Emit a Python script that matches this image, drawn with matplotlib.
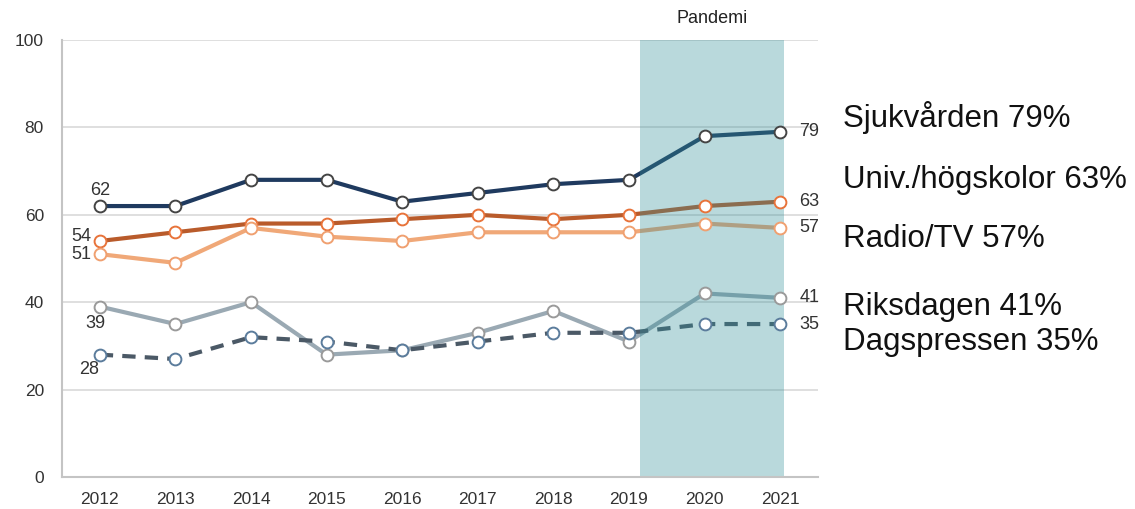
import numpy as np
import matplotlib.pyplot as plt

# ── Data ────────────────────────────────────────────────────────────────────
years = [2012, 2013, 2014, 2015, 2016, 2017, 2018, 2019, 2020, 2021]
sjukvarden  = [62, 62, 68, 68, 63, 65, 67, 68, 78, 79]
univ        = [54, 56, 58, 58, 59, 60, 59, 60, 62, 63]
radio_tv    = [51, 49, 57, 55, 54, 56, 56, 56, 58, 57]
riksdagen   = [39, 35, 40, 28, 29, 33, 38, 31, 42, 41]
dagspressen = [28, 27, 32, 31, 29, 31, 33, 33, 35, 35]

labels = ["Sjukvården 79%", "Univ./högskolor 63%", "Radio/TV 57%",
          "Riksdagen 41%", "Dagspressen 35%"]
pandemic = (2019.14, 2021.05)

plt.rcParams["font.family"] = ["Liberation Sans", "DejaVu Sans"]

fig = plt.figure(figsize=(11.35, 5.09), dpi=100)
ax = fig.add_axes([62 / 1135, 32 / 509, 756 / 1135, 437 / 509])

series = [
    # values, line colour, marker edge, linestyle
    (sjukvarden,  "#1f3a5f", "#444444", "-"),
    (univ,        "#b95b2b", "#e8733a", "-"),
    (radio_tv,    "#f0a878", "#f0a070", "-"),
    (riksdagen,   "#9aa9b3", "#9a9a9a", "-"),
    (dagspressen, "#4b5966", "#5b7c9c", "--"),
]

for i, (vals, col, edge, ls) in enumerate(series):
    line, = ax.plot(years, vals, color=col, lw=3, ls=ls, zorder=2 + i * 0.01,
                    solid_capstyle="round")
    if ls == "--":
        line.set_dashes((3.2, 2.2))
    ax.plot(years, vals, ls="none", marker="o", ms=8.5, mfc="white",
            mec=edge, mew=1.4, zorder=5 + i * 0.01)

# pandemic shading drawn over the lines
ax.axvspan(*pandemic, color="#329099", alpha=0.34, lw=0, zorder=3)
ax.text(sum(pandemic) / 2, 103, "Pandemi", ha="center", va="bottom",
        fontsize=13, color="#222222")

# value labels
lab = dict(textcoords="offset pixels", fontsize=13, color="#333333",
           va="center", zorder=6)
ax.annotate(str(sjukvarden[0]), (years[0], sjukvarden[0]), xytext=(0, 16), ha="center", **lab)
ax.annotate(str(univ[0]), (years[0], univ[0]), xytext=(-8, 5), ha="right", **lab)
ax.annotate(str(radio_tv[0]), (years[0], radio_tv[0]), xytext=(-8, 0), ha="right", **lab)
ax.annotate(str(riksdagen[0]), (years[0], riksdagen[0]), xytext=(-4, -17), ha="center", **lab)
ax.annotate(str(dagspressen[0]), (years[0], dagspressen[0]), xytext=(-11, -15), ha="center", **lab)
for vals, *_ in series:
    ax.annotate(str(vals[-1]), (years[-1], vals[-1]), xytext=(19, 0), ha="left", **lab)

# big labels on the right
label_y = [127, 188, 247, 315, 350]  # baselines in pixels from top
for txt, y in zip(labels, label_y):
    fig.text(843 / 1135, 1 - y / 509, txt, ha="left", va="baseline",
             fontsize=22.5, color="#111111")

ax.set_xlim(2011.5, 2021.5)
ax.set_ylim(0, 100)
ax.set_yticks(np.arange(0, 101, 20))
ax.set_xticks(years)
ax.tick_params(length=0, labelsize=12.5, colors="#333333")
ax.tick_params(axis="y", pad=13)
ax.tick_params(axis="x", pad=11)

ax.yaxis.grid(True, color="#d9d9d9", lw=1.2, zorder=1)
ax.set_axisbelow(True)
for s in ["top", "right"]:
    ax.spines[s].set_visible(False)
for s in ["left", "bottom"]:
    ax.spines[s].set_color("#c4c4c4")
    ax.spines[s].set_linewidth(1.5)
ax.spines["bottom"].set_zorder(4)

fig.savefig("out.png", dpi=100, facecolor="white")
